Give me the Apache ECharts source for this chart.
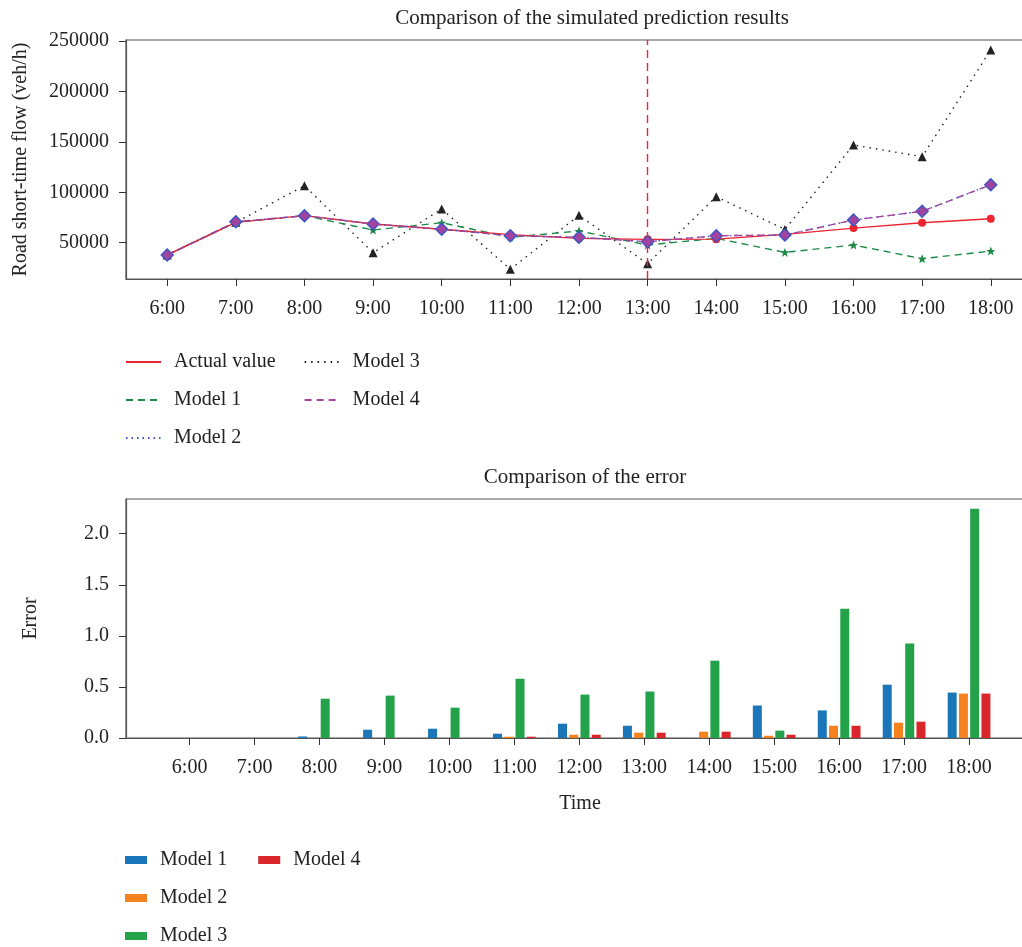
<!DOCTYPE html>
<html>
<head>
<meta charset="utf-8">
<script src="https://cdn.jsdelivr.net/npm/echarts@6/dist/echarts.min.js"></script>
<style>
  html, body { margin: 0; padding: 0; background: #fff; }
  #chart { width: 1022px; height: 947px; }
</style>
</head>
<body>
<div id="chart"></div>
<script>
// time axis
const hours = ['6:00', '7:00', '8:00', '9:00', '10:00', '11:00', '12:00',
  '13:00', '14:00', '15:00', '16:00', '17:00', '18:00'];

// predicted flow (veh/h)
const actualValue = [37800, 70200, 76800, 68500, 63300, 58000, 54300, 53300, 53500, 58300, 64500, 69800, 73800];
const model1 = [37800, 70200, 76800, 62600, 69800, 55300, 61600, 47700, 54300, 40400, 47700, 34100, 41700];
const model2 = [37800, 70800, 76800, 68500, 63300, 56900, 55300, 51000, 56900, 57600, 72500, 81100, 107500];
const model3 = [37800, 70200, 106500, 40100, 83400, 23600, 77100, 29200, 95600, 63200, 146900, 135300, 241100];
const model4 = [37800, 70800, 76800, 68500, 63300, 56900, 55300, 51000, 56900, 57600, 72500, 81100, 107500];

// error values
const err1 = [0, 0, 0.015, 0.081, 0.091, 0.042, 0.14, 0.12, 0, 0.318, 0.27, 0.522, 0.445];
const err2 = [0, 0, 0, 0, 0, 0.013, 0.032, 0.052, 0.062, 0.022, 0.12, 0.15, 0.435];
const err3 = [0, 0, 0.385, 0.415, 0.297, 0.58, 0.425, 0.455, 0.757, 0.072, 1.265, 0.925, 2.245];
const err4 = [0, 0, 0, 0, 0, 0.013, 0.032, 0.052, 0.062, 0.032, 0.12, 0.16, 0.435];

const flowTicks = [50000, 100000, 150000, 200000, 250000];
const errTicks = [0, 0.5, 1, 1.5, 2];
const splitIndex = 7; // 13:00

const FONT = 'Liberation Serif';
const TXT = '#222';
const AX = '#555';
const tickIdx = hours.map((h, i) => i);
const pairs = (arr) => arr.map((v, i) => [i, v]);

function xAxisCfg(gridIndex, min, max, name) {
  return {
    type: 'value', gridIndex, min, max,
    name, nameLocation: 'middle', nameGap: 56,
    nameTextStyle: { fontFamily: FONT, fontSize: 20, color: TXT },
    axisLine: { show: true, onZero: false, lineStyle: { color: AX, width: 1.2 } },
    axisTick: { show: true, length: 7, customValues: tickIdx, lineStyle: { color: '#333' } },
    axisLabel: {
      customValues: tickIdx, margin: 20,
      fontFamily: FONT, fontSize: 20, color: TXT,
      formatter: (v) => hours[Math.round(v)]
    },
    splitLine: { show: false }
  };
}

function yAxisCfg(gridIndex, min, max, name, nameGap, ticks, fmt) {
  return {
    type: 'value', gridIndex, min, max,
    name, nameLocation: 'middle', nameGap,
    nameTextStyle: { fontFamily: FONT, fontSize: 20, color: TXT },
    axisLine: { show: true, onZero: false, lineStyle: { color: AX, width: 1.2 } },
    axisTick: { show: true, length: 7, customValues: ticks, lineStyle: { color: '#333' } },
    axisLabel: { customValues: ticks, margin: 17, fontFamily: FONT, fontSize: 20, color: TXT, formatter: fmt },
    splitLine: { show: false }
  };
}

function lineSeries(name, data, color, type, symbol, size, z) {
  return {
    name, type: 'line', data: pairs(data),
    symbol, symbolSize: size, z,
    lineStyle: { color, width: 1.4, type },
    itemStyle: { color }
  };
}

function barSeries(name, data, color) {
  return {
    name, type: 'bar', xAxisIndex: 1, yAxisIndex: 1,
    data: pairs(data), barWidth: 9, barGap: '25%',
    itemStyle: { color }
  };
}

const chart = echarts.init(document.getElementById('chart'));

const option = {
  animation: false,
  backgroundColor: '#fff',
  title: [
    { text: 'Comparison of the simulated prediction results', left: 587, top: 3, textAlign: 'center',
      textStyle: { fontFamily: FONT, fontSize: 21, fontWeight: 'normal', color: TXT } },
    { text: 'Comparison of the error', left: 580, top: 462, textAlign: 'center',
      textStyle: { fontFamily: FONT, fontSize: 21, fontWeight: 'normal', color: TXT } }
  ],
  legend: [
    {
      data: ['Actual value', 'Model 1', 'Model 2', 'Model 3', 'Model 4'],
      orient: 'vertical', left: 120, top: 347, height: 115,
      itemWidth: 35, itemHeight: 14, itemGap: 18,
      itemStyle: { opacity: 0 },
      textStyle: { fontFamily: FONT, fontSize: 20, lineHeight: 20, color: TXT, padding: [0, 10, 0, 8] }
    },
    {
      data: ['Model 1 ', 'Model 2 ', 'Model 3 ', 'Model 4 '],
      orient: 'vertical', left: 120, top: 845, height: 100,
      icon: 'rect', itemWidth: 22, itemHeight: 8, itemGap: 18,
      textStyle: { fontFamily: FONT, fontSize: 20, lineHeight: 20, color: TXT, padding: [0, 13, 0, 8] },
      formatter: (n) => n.trim()
    }
  ],
  grid: [
    { left: 126, top: 40, right: -12, height: 239, show: true, borderColor: AX, borderWidth: 1.2, outerBoundsMode: 'none' },
    { left: 126, top: 499, right: -12, height: 239, show: true, borderColor: AX, borderWidth: 1.2, outerBoundsMode: 'none' }
  ],
  xAxis: [
    xAxisCfg(0, -0.6, 12.63, ''),
    xAxisCfg(1, -0.98, 13.0, 'Time')
  ],
  yAxis: [
    yAxisCfg(0, 14000, 251000, 'Road short-time flow (veh/h)', 95, flowTicks, (v) => String(v)),
    yAxisCfg(1, 0, 2.34, 'Error', 85, errTicks, (v) => v.toFixed(1))
  ],
  series: [
    Object.assign(lineSeries('Actual value', actualValue, '#ec2530', 'solid', 'circle', 8, 3), {
      markLine: {
        silent: true, symbol: 'none', label: { show: false },
        lineStyle: { color: '#ec2530', type: [8, 5], width: 1.4 },
        data: [{ xAxis: splitIndex }]
      }
    }),
    lineSeries('Model 1', model1, '#1d8a48', [7, 5], 'path://M0,-10L2.9,-3.1L10,-3.1L4.3,1.2L6.2,8.1L0,4L-6.2,8.1L-4.3,1.2L-10,-3.1L-2.9,-3.1Z', 9, 2),
    lineSeries('Model 2', model2, '#3a56c5', [1.5, 4], 'diamond', 14, 4),
    lineSeries('Model 3', model3, '#222', [1.5, 5], 'triangle', 9, 1),
    lineSeries('Model 4', model4, '#a2449f', [7, 5], 'diamond', 10, 5),
    barSeries('Model 1 ', err1, '#1a76b8'),
    barSeries('Model 2 ', err2, '#f5821f'),
    barSeries('Model 3 ', err3, '#24a249'),
    barSeries('Model 4 ', err4, '#d8262a')
  ]
};

chart.setOption(option);
</script>
</body>
</html>
